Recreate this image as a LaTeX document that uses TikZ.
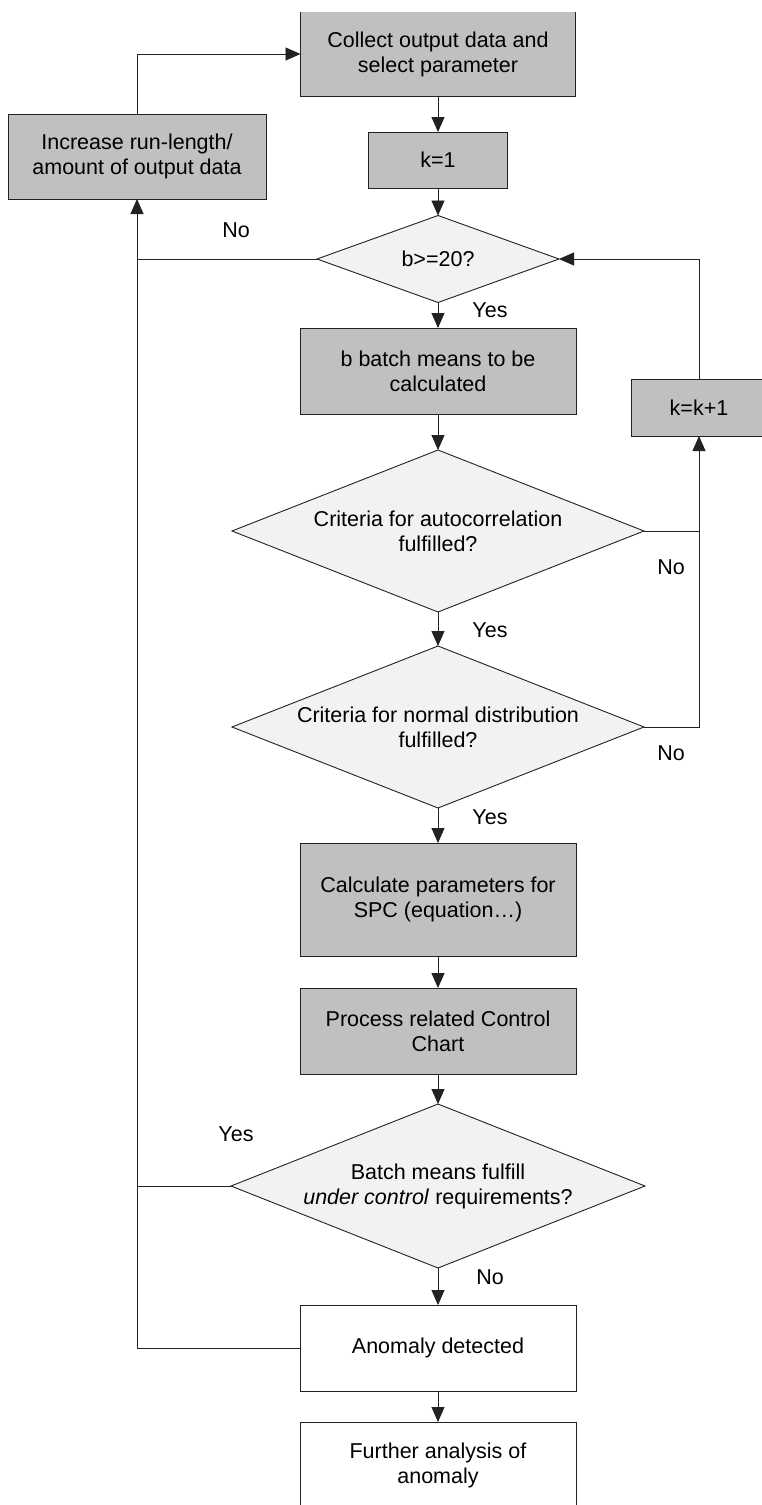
\documentclass[tikz,border=0pt]{standalone}
\usepackage{fontspec}
\setmainfont{Liberation Sans}
\usetikzlibrary{shapes.geometric,arrows.meta}
\definecolor{boxgray}{HTML}{C0C0C0}
\definecolor{diagray}{HTML}{F2F2F2}
\definecolor{linecol}{HTML}{222222}
\begin{document}
\begin{tikzpicture}[x=1pt,y=-1pt,
  every node/.style={font=\fontsize{21.5}{25}\selectfont, align=center, inner sep=0pt, outer sep=0pt},
  procbox/.style={rectangle, draw=linecol, line width=0.9pt, fill=boxgray},
  whitebox/.style={rectangle, draw=linecol, line width=0.9pt, fill=white},
  decision/.style={diamond, draw=linecol, line width=0.9pt, fill=diagray},
  conn/.style={draw=linecol, line width=0.9pt},
  arr/.style={conn, -{Triangle[length=15pt,width=13pt]}},
  lbl/.style={text=black}
]
\useasboundingbox[fill=white] (0,0) rectangle (761,1505);

% boxes
\node[rectangle, fill=boxgray, minimum width=275pt, minimum height=84pt] (collect) at (438,54) {Collect output data and\\select parameter};
\draw[conn] (collect.north west) -- (collect.south west) -- (collect.south east) -- (collect.north east);
\node[procbox, minimum width=139pt, minimum height=56pt] (k1) at (438,160) {k=1};
\node[procbox, minimum width=258pt, minimum height=85pt] (increase) at (137,156.5) {Increase run-length/\\amount of output data};
\node[decision, minimum width=242pt, minimum height=87pt] (b20) at (438,259) {};
\node[lbl] (b20t) at (438,259) {b>=20?};
\node[procbox, minimum width=276pt, minimum height=86pt] (batch) at (438,371) {b batch means to be\\calculated};
\node[procbox, minimum width=136pt, minimum height=57pt] (kk1) at (699,407.5) {k=k+1};
\node[decision, minimum width=412pt, minimum height=162pt] (auto) at (438,531) {};
\node[lbl] (autot) at (438,531) {Criteria for autocorrelation\\fulfilled?};
\node[decision, minimum width=412pt, minimum height=162pt] (normal) at (438,727) {};
\node[lbl] (normalt) at (438,727) {Criteria for normal distribution\\fulfilled?};
\node[procbox, minimum width=276pt, minimum height=113pt] (calc) at (438,899.5) {Calculate parameters for\\SPC (equation…)};
\node[procbox, minimum width=276pt, minimum height=86pt] (process) at (438,1031) {Process related Control\\Chart};
\node[decision, minimum width=414pt, minimum height=164pt] (ctrl) at (438,1186) {};
\node[lbl] (ctrlt) at (438,1186) {Batch means fulfill\\\textit{under control} requirements?};
\node[whitebox, minimum width=276pt, minimum height=86pt] (anomaly) at (438,1348) {Anomaly detected};
\node[whitebox, minimum width=276pt, minimum height=86pt] (further) at (438,1465) {Further analysis of\\anomaly};

% main flow
\draw[arr] (collect.south) -- (k1.north);
\draw[arr] (k1.south) -- (b20.north);
\draw[arr] (b20.south) -- (batch.north);
\draw[arr] (batch.south) -- (auto.north);
\draw[arr] (auto.south) -- (normal.north);
\draw[arr] (normal.south) -- (calc.north);
\draw[arr] (calc.south) -- (process.north);
\draw[arr] (process.south) -- (ctrl.north);
\draw[arr] (ctrl.south) -- (anomaly.north);
\draw[arr] (anomaly.south) -- (further.north);

% left loop
\draw[arr] (anomaly.west) -| (increase.south);
\draw[conn] (b20.west) -- (increase.south |- b20.west);
\draw[conn] (ctrl.west) -- (increase.south |- ctrl.west);
\draw[arr] (increase.north) |- (collect.west);

% right loop
\draw[arr] (auto.east) -| (kk1.south);
\draw[conn] (normal.east) -| (kk1.south |- auto.east);
\draw[arr] (kk1.north) |- (b20.east);

% labels
\node[lbl] (l1) at (490,310) {Yes};
\node[lbl] (l2) at (490,630) {Yes};
\node[lbl] (l3) at (490,817) {Yes};
\node[lbl] (l4) at (490,1277) {No};
\node[lbl] (l5) at (236,230) {No};
\node[lbl] (l6) at (236,1134) {Yes};
\node[lbl] (l7) at (671,567) {No};
\node[lbl] (l8) at (671,753) {No};
\end{tikzpicture}
\end{document}
